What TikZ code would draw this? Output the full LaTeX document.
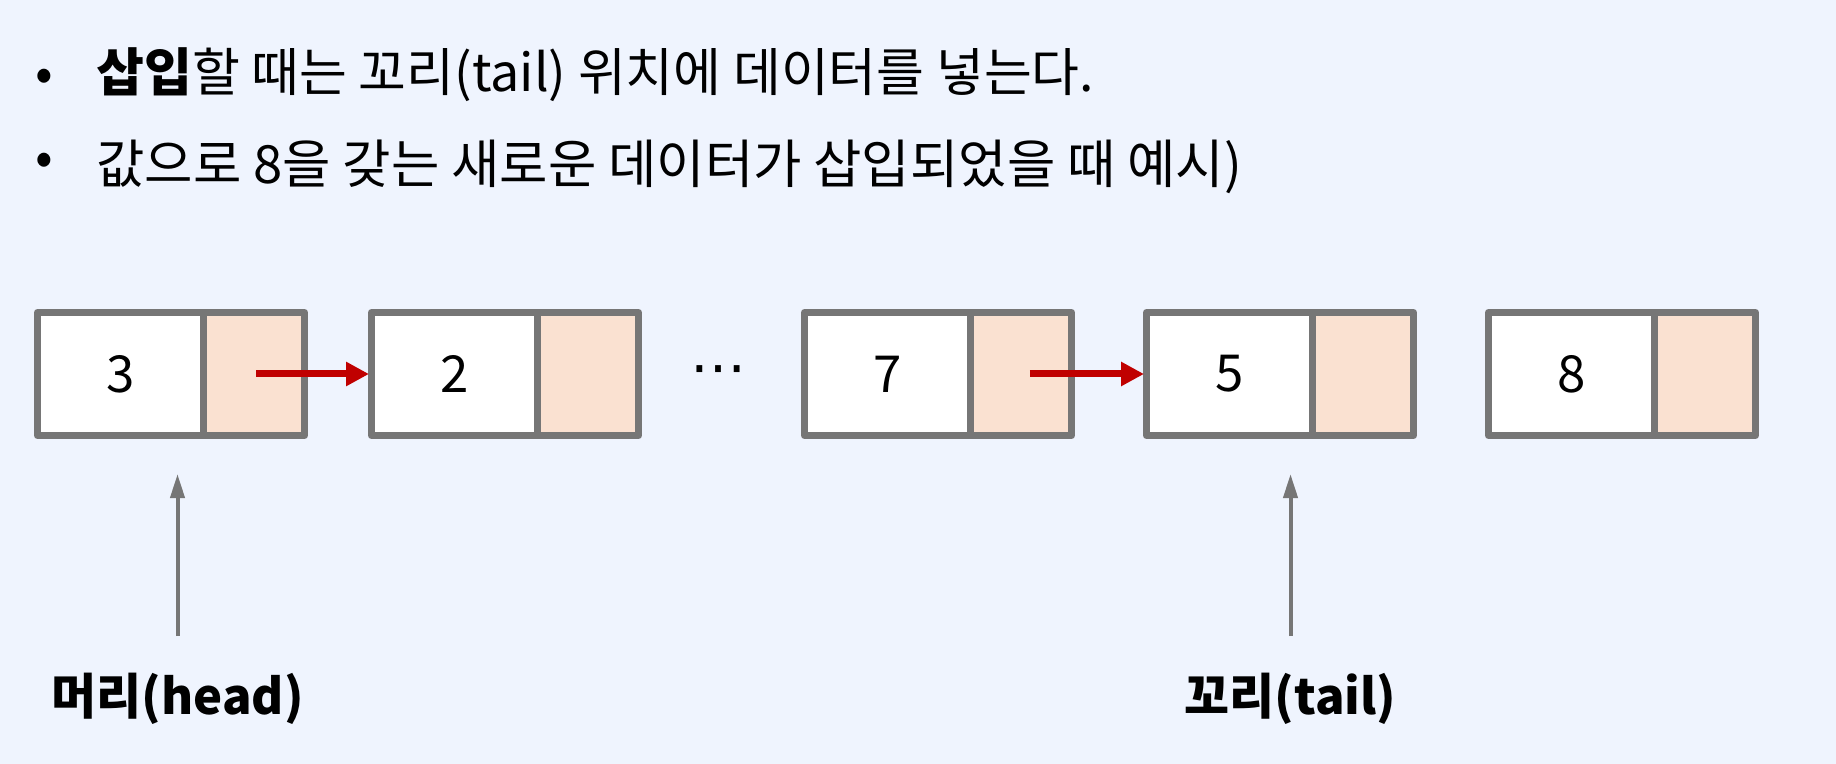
\documentclass[tikz,border=0pt]{standalone}
\usepackage{fontspec}
\setmainfont{Noto Sans CJK KR}
\newfontfamily\dejavu{DejaVu Sans}
\usetikzlibrary{arrows.meta,calc}
\definecolor{bg}{RGB}{239,244,254}
\definecolor{boxgray}{RGB}{118,118,118}
\definecolor{ptrfill}{RGB}{250,225,209}
\definecolor{linkred}{RGB}{192,0,0}
\tikzset{
  txt/.style={inner sep=0pt, font=\fontsize{26}{31}\selectfont, text=black},
  datacell/.style={draw=boxgray, line width=3.5pt, line join=round, fill=white,
    minimum width=82.75pt, minimum height=61.5pt, inner sep=0pt, outer sep=0pt,
    font=\fontsize{25.5}{30}\selectfont},
  ptrcell/.style={draw=boxgray, line width=3.5pt, line join=round, fill=ptrfill,
    minimum width=50.75pt, minimum height=61.5pt, inner sep=0pt, outer sep=0pt, anchor=west},
  link/.style={draw=linkred, line width=3.5pt, -{Triangle[length=11.5pt,width=11.5pt]}},
  pointerup/.style={draw=boxgray, line width=2pt, -{Triangle[length=12pt,width=7pt]}},
}
\begin{document}
\begin{tikzpicture}[x=0.5pt,y=-0.5pt]
\fill[bg] (0,0) rectangle (1836,764);
\useasboundingbox (0,0) rectangle (1836,764);

% bullets
\node[txt, anchor=center] (b1) at (44,80) {•};
\node[txt, anchor=base west] (t1) at (96,92) {\textbf{삽입}할 때는 꼬리(tail) 위치에 데이터를 넣는다.};
\node[txt, anchor=center] (b2) at (44,164) {•};
\node[txt, anchor=base west] (t2) at (96,184) {\fontsize{26.3}{31}\selectfont 값으로 8을 갖는 새로운 데이터가 삽입되었을 때 예시)};

% nodes
\node[datacell] (d1) at (120.25,374) {3};
\node[ptrcell] (p1) at (d1.east) {};
\node[datacell] (d2) at (454.25,374) {2};
\node[ptrcell] (p2) at (d2.east) {};
\node[txt, font=\fontsize{28}{32}\dejavu] (dots) at (718,376) {⋯};
\node[datacell] (d3) at (887.25,374) {7};
\node[ptrcell] (p3) at (d3.east) {};
\node[datacell] (d4) at (1229.25,374) {5};
\node[ptrcell] (p4) at (d4.east) {};
\node[datacell] (d5) at (1571.25,374) {8};
\node[ptrcell] (p5) at (d5.east) {};

% links
\draw[link, shorten >=1.25pt] ([xshift=1.3pt]p1.center) -- (d2.west);
\draw[link, shorten >=1.25pt] ([xshift=4.6pt]p3.center) -- (d4.west);

% labels
\node[txt, font=\bfseries\fontsize{24.5}{29}\selectfont, anchor=base] (hl) at (177.5,714) {머리(head)};
\node[txt, font=\bfseries\fontsize{24.5}{29}\selectfont, anchor=base] (tl) at (1290.5,714) {꼬리(tail)};

\draw[pointerup, shorten <=18pt, shorten >=19.25pt] (hl.north) -- (hl.north |- d1.south);
\draw[pointerup, shorten <=18pt, shorten >=19.25pt] (tl.north) -- (tl.north |- d4.south);
\end{tikzpicture}
\end{document}
